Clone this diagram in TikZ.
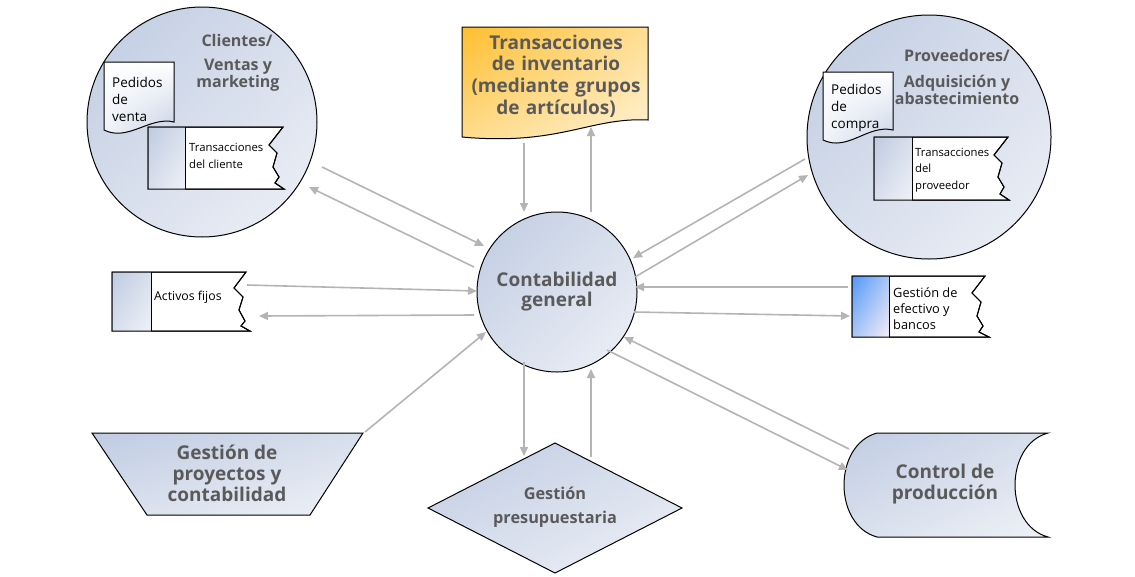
\documentclass[tikz,border=0pt]{standalone}
\usepackage{fontspec}
\setmainfont{Open Sans}
\usetikzlibrary{arrows.meta,shadings}
\definecolor{cdark}{HTML}{BFCBE2}
\definecolor{cmid}{HTML}{D8DFEC}
\definecolor{clight}{HTML}{EEF1F7}
\definecolor{agray}{HTML}{B4B4B4}
\definecolor{tgray}{HTML}{5A5A5A}
\definecolor{odark}{HTML}{FFBE2E}
\definecolor{omid}{HTML}{FFDD92}
\definecolor{olight}{HTML}{FFF3D8}
\definecolor{bdark}{HTML}{5098F8}
\definecolor{bmid}{HTML}{A9C6F6}
\definecolor{blight}{HTML}{F5ECF6}
\newcommand{\fbig}{\fontsize{19}{21}\selectfont\bfseries}
\newcommand{\fmid}{\fontsize{16}{17.5}\selectfont\bfseries}
\begin{document}
\begin{tikzpicture}[x=1pt,y=-1pt,
  outl/.style={draw=black,line width=1pt},
  blueshade/.style={upper left=cdark,upper right=cmid,lower left=cmid,lower right=clight},
  docshade/.style={upper left=white,upper right=white,lower left=white!60!cmid,lower right=cdark},
  bigcirc/.style={circle,outl,blueshade,inner sep=0pt},
  conn/.style={draw=agray,line width=1.6pt,-{Triangle[length=9pt,width=8pt]}},
  ttl/.style={text=tgray,align=center,inner sep=0pt},
  small/.style={text=black,align=left,inner sep=0pt,anchor=west}]
\useasboundingbox (0,0) rectangle (1135,576);

% ---------- Clientes circle ----------
\node[bigcirc,minimum size=230pt] (clientes) at (202,122) {};
\node[ttl,font=\fmid] (cltitle) at (237,40) {Clientes/};
\node[ttl,font=\fmid] (clsub) at (238,75) {Ventas y\\marketing};
% Pedidos de venta document
\path[outl,docshade]
  (104,62) -- (174,62) -- (174,122) .. controls (150,116) and (128,142) .. (104,130) -- cycle;
\node[small,font=\fontsize{13.5}{17}\selectfont] (pventa) at (112,99) {Pedidos\\de\\venta};
% Transacciones del cliente
\path[outl,fill=white] (148,127) -- (283,127) -- ++(-14,18) -- ++(8,8) -- ++(-4,14) -- ++(6,10) -- ++(-4,6) -- (284,189) -- (148,189) -- cycle;
\path[blueshade] (148,127) rectangle (185,189);
\draw[line width=1pt] (148,127) -- (283,127) -- ++(-14,18) -- ++(8,8) -- ++(-4,14) -- ++(6,10) -- ++(-4,6) -- (284,189) -- (148,189) -- cycle;
\draw[line width=1pt] (185,127) -- (185,189);
\node[small,font=\fontsize{11.3}{17}\selectfont] (tcli) at (189,156) {Transacciones\\del cliente};

% ---------- Inventario document ----------
\path[outl,upper left=odark,upper right=omid,lower left=omid,lower right=olight]
  (462,27) -- (648,27) -- (648,120) .. controls (590,117) and (560,146) .. (462,137) -- cycle;
\node[ttl,font=\fontsize{19}{21.6}\selectfont\bfseries,text width=190pt] (inv) at (556,76) {Transacciones\\de inventario\\(mediante grupos\\de artículos)};

% ---------- Proveedores circle ----------
\node[bigcirc,minimum size=244pt] (prov) at (929,137) {};
\node[ttl,font=\fmid] (prtitle) at (957,55) {Proveedores/};
\node[ttl,font=\fmid] (prsub) at (957,90) {Adquisición y\\abastecimiento};
% Pedidos de compra document
\path[outl,docshade]
  (823,72) -- (893,72) -- (893,130) .. controls (868,124) and (848,152) .. (823,140) -- cycle;
\node[small,font=\fontsize{13.5}{17}\selectfont] (pcompra) at (831,108) {Pedidos\\de\\compra};
% Transacciones del proveedor
\path[outl,fill=white] (874,137) -- (1008,137) -- ++(-14,18) -- ++(8,8) -- ++(-4,14) -- ++(6,10) -- ++(-4,7) -- (1009,200) -- (874,200) -- cycle;
\path[blueshade] (874,137) rectangle (912,200);
\draw[line width=1pt] (874,137) -- (1008,137) -- ++(-14,18) -- ++(8,8) -- ++(-4,14) -- ++(6,10) -- ++(-4,7) -- (1009,200) -- (874,200) -- cycle;
\draw[line width=1pt] (912,137) -- (912,200);
\node[small,font=\fontsize{11.3}{16.5}\selectfont] (tprov) at (915,170) {Transacciones\\del\\proveedor};

% ---------- Activos fijos ----------
\path[outl,fill=white] (112,272) -- (246,272) -- ++(-12,16) -- ++(9,9) -- ++(-4,13) -- ++(6,11) -- ++(-4,5) -- (250,331) -- (112,331) -- cycle;
\path[blueshade] (112,272) rectangle (151,331);
\draw[line width=1pt] (112,272) -- (246,272) -- ++(-12,16) -- ++(9,9) -- ++(-4,13) -- ++(6,11) -- ++(-4,5) -- (250,331) -- (112,331) -- cycle;
\draw[line width=1pt] (151,272) -- (151,331);
\node[small,font=\fontsize{12.3}{16}\selectfont] (activos) at (154,297) {Activos fijos};

% ---------- Gestion de efectivo ----------
\path[outl,fill=white] (852,276) -- (985,276) -- ++(-13,17) -- ++(9,9) -- ++(-4,14) -- ++(6,10) -- ++(-4,6) -- (989,337) -- (852,337) -- cycle;
\path[upper left=bdark,upper right=bmid,lower left=bmid,lower right=blight] (852,276) rectangle (889,337);
\draw[line width=1pt] (852,276) -- (985,276) -- ++(-13,17) -- ++(9,9) -- ++(-4,14) -- ++(6,10) -- ++(-4,6) -- (989,337) -- (852,337) -- cycle;
\draw[line width=1pt] (889,276) -- (889,337);
\node[small,font=\fontsize{12.8}{16}\selectfont] (efectivo) at (893,309) {Gestión de\\efectivo y\\bancos};

% ---------- Contabilidad general ----------
\node[bigcirc,minimum size=160pt,font=\fontsize{19}{20}\selectfont\bfseries,text=tgray,align=center] (cg) at (557,292) {Contabilidad\\general};

% ---------- Proyectos (trapezoid) ----------
\path[outl,blueshade] (92,433) -- (363,433) -- (310,515) -- (147,515) -- cycle;
\node[ttl,font=\fbig] (proy) at (227,473) {Gestión de\\proyectos y\\contabilidad};

% ---------- Presupuestaria (diamond) ----------
\path[outl,blueshade] (555,443) -- (682,508) -- (555,573) -- (428,508) -- cycle;
\node[ttl,font=\fontsize{16.3}{24}\selectfont\bfseries] (pres) at (555,507) {Gestión\\presupuestaria};

% ---------- Control de produccion ----------
\path[outl,blueshade] (877,433) -- (1048,433) .. controls (1004,445) and (1004,525) .. (1048,537) -- (877,537) .. controls (833,525) and (833,445) .. (877,433) -- cycle;
\node[ttl,font=\fbig] (prod) at (945,484) {Control de\\producción};

% ---------- connector end points ----------
\coordinate (a1s) at (322,167); \coordinate (a1e) at (484,246);
\coordinate (a2s) at (474,267); \coordinate (a2e) at (309,187);
\coordinate (b1s) at (524,143); \coordinate (b1e) at (524,212);
\coordinate (b2s) at (591,212); \coordinate (b2e) at (591,127);
\coordinate (c1s) at (805,159); \coordinate (c1e) at (633,258);
\coordinate (c2s) at (635,277); \coordinate (c2e) at (808,175);
\coordinate (d1s) at (247,285); \coordinate (d1e) at (477,291);
\coordinate (d2s) at (474,315); \coordinate (d2e) at (259,316);
\coordinate (e1s) at (848,287); \coordinate (e1e) at (635,287);
\coordinate (e2s) at (634,312); \coordinate (e2e) at (850,316);
\coordinate (f1s) at (365,432); \coordinate (f1e) at (486,332);
\coordinate (g1s) at (524,362); \coordinate (g1e) at (524,456);
\coordinate (g2s) at (591,457); \coordinate (g2e) at (591,369);
\coordinate (h1s) at (849,449); \coordinate (h1e) at (624,337);
\coordinate (h2s) at (607,350); \coordinate (h2e) at (848,470);

\draw[conn] (a1s) -- (a1e);
\draw[conn] (a2s) -- (a2e);
\draw[conn] (b1s) -- (b1e);
\draw[conn] (b2s) -- (b2e);
\draw[conn] (c1s) -- (c1e);
\draw[conn] (c2s) -- (c2e);
\draw[conn] (d1s) -- (d1e);
\draw[conn] (d2s) -- (d2e);
\draw[conn] (e1s) -- (e1e);
\draw[conn] (e2s) -- (e2e);
\draw[conn] (f1s) -- (f1e);
\draw[conn] (g1s) -- (g1e);
\draw[conn] (g2s) -- (g2e);
\draw[conn] (h1s) -- (h1e);
\draw[conn] (h2s) -- (h2e);
\end{tikzpicture}
\end{document}
